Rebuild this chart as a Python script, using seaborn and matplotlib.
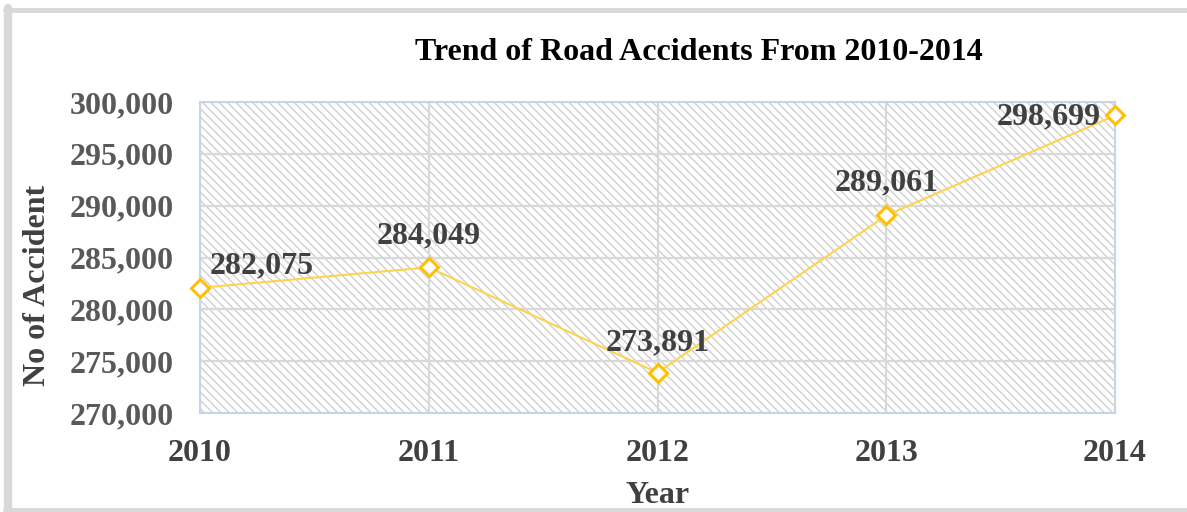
import matplotlib
matplotlib.use("Agg")
import matplotlib.pyplot as plt
import seaborn as sns
import pandas as pd
from matplotlib.patches import Rectangle
from matplotlib.lines import Line2D

years = [2010, 2011, 2012, 2013, 2014]
accidents = [282075, 284049, 273891, 289061, 298699]
y_ticks = [270000, 275000, 280000, 285000, 290000, 295000, 300000]

df = pd.DataFrame({"Year": years, "Accidents": accidents})

sns.set_style("white")
plt.rcParams['font.family'] = ['Liberation Serif', 'DejaVu Serif']
plt.rcParams['hatch.linewidth'] = 1.0

fig = plt.figure(figsize=(11.87, 5.12), dpi=100)
ax = fig.add_axes([200/1187, 1-413/512, (1115-200)/1187, (413-102)/512])

# hatched plot area
ax.add_patch(Rectangle((0, 0), 1, 1, transform=ax.transAxes, facecolor='none',
                       edgecolor='#d0d0d0', hatch='\\\\\\\\', linewidth=0, zorder=0))

sns.lineplot(data=df, x="Year", y="Accidents", ax=ax, color='#ffd34d', linewidth=1.5,
             marker='D', markersize=9, markerfacecolor='white', markeredgecolor='#ffc000',
             markeredgewidth=2.2, clip_on=False, zorder=5)

ax.set_xlim(2010, 2014)
ax.set_ylim(270000, 300000)
ax.set_xticks(years)
ax.set_xticklabels([str(y) for y in years])
ax.set_yticks(y_ticks)
ax.set_yticklabels([f"{v:,}" for v in y_ticks])
ax.grid(True, color='#d9d9d9', linewidth=1.6, zorder=1)
ax.set_axisbelow(True)
for s in ax.spines.values():
    s.set_color('#c9d3e6')
    s.set_linewidth(1.5)
ax.tick_params(axis='both', length=0)
ax.tick_params(axis='y', pad=19, labelsize=23, labelcolor='#595959')
ax.tick_params(axis='x', pad=19, labelsize=23, labelcolor='#404040')
for lab in ax.get_xticklabels() + ax.get_yticklabels():
    lab.set_fontweight('bold')

ax.set_xlabel("Year", fontsize=23, fontweight='bold', color='#404040', labelpad=9)
ax.set_ylabel("No of Accident", fontsize=23, fontweight='bold', color='#404040')
ax.yaxis.set_label_coords((52-200)/915, (413-285)/311)

# offsets in pixels (dx, dy up)
offsets = [(62, 22), (0, 31), (0, 30), (0, 32), (-66, -1)]
for x, y, (dx, dy) in zip(years, accidents, offsets):
    ax.annotate(f"{y:,}", xy=(x, y), xytext=(dx*0.72, dy*0.72), textcoords='offset points',
                ha='center', va='center', fontsize=23, fontweight='bold', color='#404040',
                zorder=6)

fig.text(699/1187, 1-52/512, "Trend of Road Accidents From 2010-2014", ha='center', va='center',
         fontsize=23, fontweight='bold', color='black')

# outer frame (partially cropped)
frame_c = '#d9d9d9'
fig.add_artist(Line2D([8/1187, 8/1187], [0, 1-8/512], transform=fig.transFigure, color=frame_c, linewidth=6))
fig.add_artist(Line2D([5/1187, 1], [1-10/512, 1-10/512], transform=fig.transFigure, color=frame_c, linewidth=3.5))
fig.add_artist(Line2D([5/1187, 1], [2/512, 2/512], transform=fig.transFigure, color=frame_c, linewidth=3.5))

fig.savefig("out.png", dpi=100)
